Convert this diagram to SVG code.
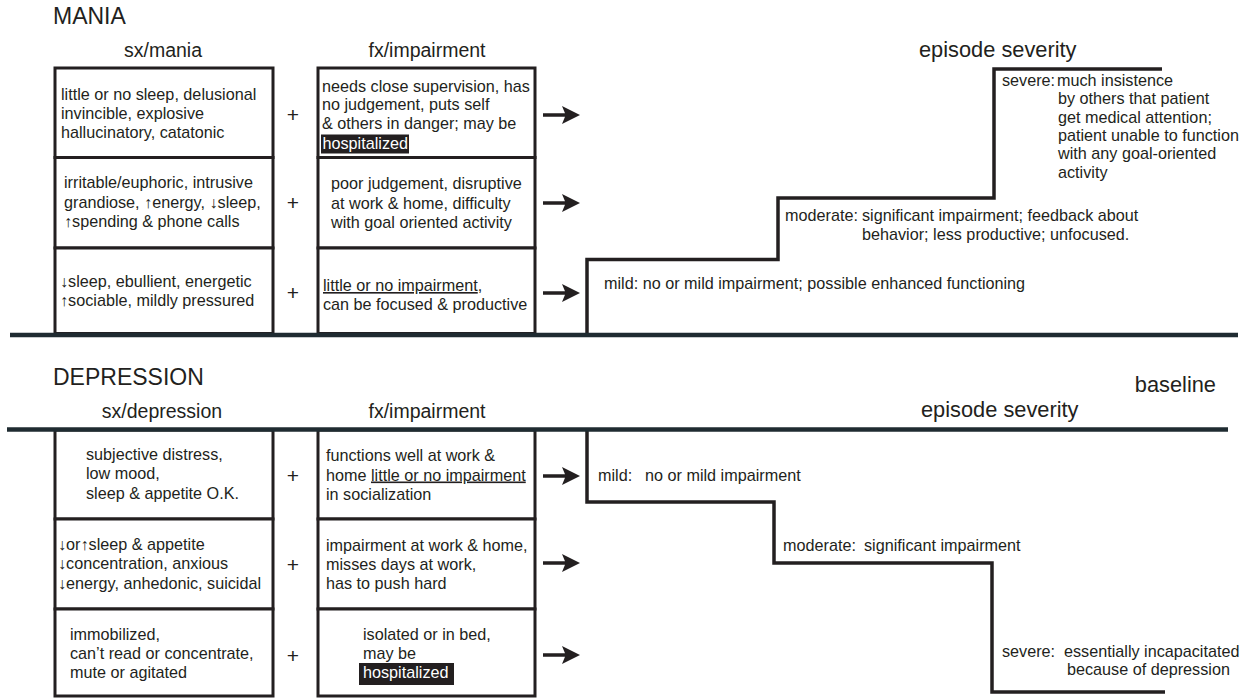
<svg xmlns="http://www.w3.org/2000/svg" xmlns:xlink="http://www.w3.org/1999/xlink" width="1255" height="698" viewBox="0 0 1255 698">
<style>
.box{fill:#fff;stroke:#231f20;stroke-width:3}
.t{font-family:"Liberation Sans",Arial,Helvetica,sans-serif;font-size:16.2px;fill:#231f20}
.h{font-family:"Liberation Sans",Arial,Helvetica,sans-serif;font-size:19.5px;fill:#231f20}
.ttl{font-family:"Liberation Sans",Arial,Helvetica,sans-serif;font-size:23px;fill:#231f20}
.es{font-family:"Liberation Sans",Arial,Helvetica,sans-serif;font-size:21.8px;fill:#231f20}
.ar{font-weight:bold}
.hl{fill:#231f20}
.wt{fill:#fff}
.step{fill:none;stroke:#231f20;stroke-width:3.5;stroke-linejoin:miter}
.div{stroke:#1f2b31;stroke-width:4.5}
.u{text-decoration:underline}
.plus{text-anchor:middle;font-size:21px}
</style>
<defs>
<path id="arr" d="M0,-1.7 H22 L19,-9 L37,0 L19,9 L22,1.7 H0 Z" fill="#231f20"/>
</defs>
<rect width="1255" height="698" fill="#fff"/>

<g id="headers">
<text class="ttl" x="53" y="24">MANIA</text>
<text class="h" x="163" y="57" text-anchor="middle">sx/mania</text>
<text class="h" x="427" y="57" text-anchor="middle">fx/impairment</text>
<text class="es" x="919" y="57">episode severity</text>
<text class="ttl" x="53" y="385">DEPRESSION</text>
<text class="h" x="162" y="418" text-anchor="middle">sx/depression</text>
<text class="h" x="427" y="418" text-anchor="middle">fx/impairment</text>
<text class="es" x="921" y="417">episode severity</text>
<text class="es" x="1216" y="392" text-anchor="end">baseline</text>
</g>

<!-- MANIA rows -->
<g id="mania-sx-severe">
<rect class="box" x="55" y="68" width="218" height="89.5"/>
<text class="t" x="61" y="99.5">little or no sleep, delusional</text>
<text class="t" x="61" y="118.7">invincible, explosive</text>
<text class="t" x="61" y="137.9">hallucinatory, catatonic</text>
</g>
<g id="mania-sx-moderate">
<rect class="box" x="55" y="157.5" width="218" height="90.5"/>
<text class="t" x="64" y="188">irritable/euphoric, intrusive</text>
<text class="t" x="64" y="207.5">grandiose, <tspan class="ar">↑</tspan>energy, <tspan class="ar">↓</tspan>sleep,</text>
<text class="t" x="64" y="227"><tspan class="ar">↑</tspan>spending &amp; phone calls</text>
</g>
<g id="mania-sx-mild">
<rect class="box" x="55" y="248" width="218" height="85.5"/>
<text class="t" x="60" y="287"><tspan class="ar">↓</tspan>sleep, ebullient, energetic</text>
<text class="t" x="60" y="306"><tspan class="ar">↑</tspan>sociable, mildly pressured</text>
</g>
<g id="mania-plus">
<text class="t plus" x="293" y="121.5">+</text>
<text class="t plus" x="293" y="209.5">+</text>
<text class="t plus" x="293" y="299.5">+</text>
</g>
<g id="mania-fx-severe">
<rect class="box" x="318" y="68" width="217" height="89.5"/>
<text class="t" x="322" y="91.7">needs close supervision, has</text>
<text class="t" x="322" y="110">no judgement, puts self</text>
<text class="t" x="322" y="128.5">&amp; others in danger; may be</text>
<rect class="hl" x="321" y="134.5" width="88" height="19"/>
<text class="t wt" x="322.5" y="148.5">hospitalized</text>
</g>
<g id="mania-fx-moderate">
<rect class="box" x="318" y="157.5" width="217" height="90.5"/>
<text class="t" x="331" y="189">poor judgement, disruptive</text>
<text class="t" x="331" y="208.5">at work &amp; home, difficulty</text>
<text class="t" x="331" y="228">with goal oriented activity</text>
</g>
<g id="mania-fx-mild">
<rect class="box" x="318" y="248" width="217" height="85.5"/>
<text class="t" x="323" y="291"><tspan class="u">little or no impairment</tspan>,</text>
<text class="t" x="323" y="309.5">can be focused &amp; productive</text>
</g>

<g id="mania-severity">
<path class="step" d="M587,334 V259.5 H778 V198 H994 V69 H1162"/>
<text class="t" x="604" y="289">mild: no or mild impairment; possible enhanced functioning</text>
<text class="t" x="785" y="221">moderate:</text>
<text class="t" x="862" y="221">significant impairment; feedback about</text>
<text class="t" x="862" y="240">behavior; less productive; unfocused.</text>
<text class="t" x="1002" y="86">severe:</text>
<text class="t" x="1057" y="86">much insistence</text>
<text class="t" x="1058" y="104.3">by others that patient</text>
<text class="t" x="1058" y="122.6">get medical attention;</text>
<text class="t" x="1058" y="141">patient unable to function</text>
<text class="t" x="1058" y="159.3">with any goal-oriented</text>
<text class="t" x="1058" y="177.6">activity</text>
</g>

<!-- DEPRESSION rows -->
<g id="dep-sx-mild">
<rect class="box" x="55" y="430" width="218" height="89"/>
<text class="t" x="86" y="459.5">subjective distress,</text>
<text class="t" x="86" y="479">low mood,</text>
<text class="t" x="86" y="498.5">sleep &amp; appetite O.K.</text>
</g>
<g id="dep-sx-moderate">
<rect class="box" x="55" y="519" width="218" height="90"/>
<text class="t" x="58" y="549.5"><tspan class="ar">↓</tspan>or<tspan class="ar">↑</tspan>sleep &amp; appetite</text>
<text class="t" x="58" y="569"><tspan class="ar">↓</tspan>concentration, anxious</text>
<text class="t" x="58" y="588.5"><tspan class="ar">↓</tspan>energy, anhedonic, suicidal</text>
</g>
<g id="dep-sx-severe">
<rect class="box" x="55" y="609" width="218" height="87"/>
<text class="t" x="70" y="639.5">immobilized,</text>
<text class="t" x="70" y="658.7">can’t read or concentrate,</text>
<text class="t" x="70" y="677.8">mute or agitated</text>
</g>
<g id="dep-plus">
<text class="t plus" x="293" y="482.5">+</text>
<text class="t plus" x="293" y="571.5">+</text>
<text class="t plus" x="293" y="662.5">+</text>
</g>
<g id="dep-fx-mild">
<rect class="box" x="318" y="430" width="217" height="89"/>
<text class="t" x="326" y="460.5">functions well at work &amp;</text>
<text class="t" x="326" y="480.5">home <tspan class="u">little or no impairment</tspan></text>
<text class="t" x="326" y="500">in socialization</text>
</g>
<g id="dep-fx-moderate">
<rect class="box" x="318" y="519" width="217" height="90"/>
<text class="t" x="326" y="551">impairment at work &amp; home,</text>
<text class="t" x="326" y="570">misses days at work,</text>
<text class="t" x="326" y="589">has to push hard</text>
</g>
<g id="dep-fx-severe">
<rect class="box" x="318" y="609" width="217" height="87"/>
<text class="t" x="363" y="639.7">isolated or in bed,</text>
<text class="t" x="363" y="658.7">may be</text>
<rect class="hl" x="359" y="663" width="95" height="22"/>
<text class="t wt" x="363" y="678">hospitalized</text>
</g>

<g id="dep-severity">
<path class="step" d="M587,431 V502 H774 V563 H992 V692 H1165"/>
<text class="t" x="598" y="481">mild:<tspan x="645">no or mild impairment</tspan></text>
<text class="t" x="783" y="550.5">moderate:<tspan x="864">significant impairment</tspan></text>
<text class="t" x="1002" y="657">severe:<tspan x="1064">essentially incapacitated</tspan></text>
<text class="t" x="1067" y="675">because of depression</text>
</g>

<g id="dividers">
<line class="div" x1="10" y1="335" x2="1238" y2="335"/>
<line class="div" x1="7" y1="429.5" x2="1228" y2="429.5"/>
</g>

<g id="connectors">
<use xlink:href="#arr" x="543" y="115"/>
<use xlink:href="#arr" x="543" y="203"/>
<use xlink:href="#arr" x="543" y="293"/>
<use xlink:href="#arr" x="543" y="476"/>
<use xlink:href="#arr" x="543" y="563"/>
<use xlink:href="#arr" x="543" y="655"/>
</g>
</svg>
